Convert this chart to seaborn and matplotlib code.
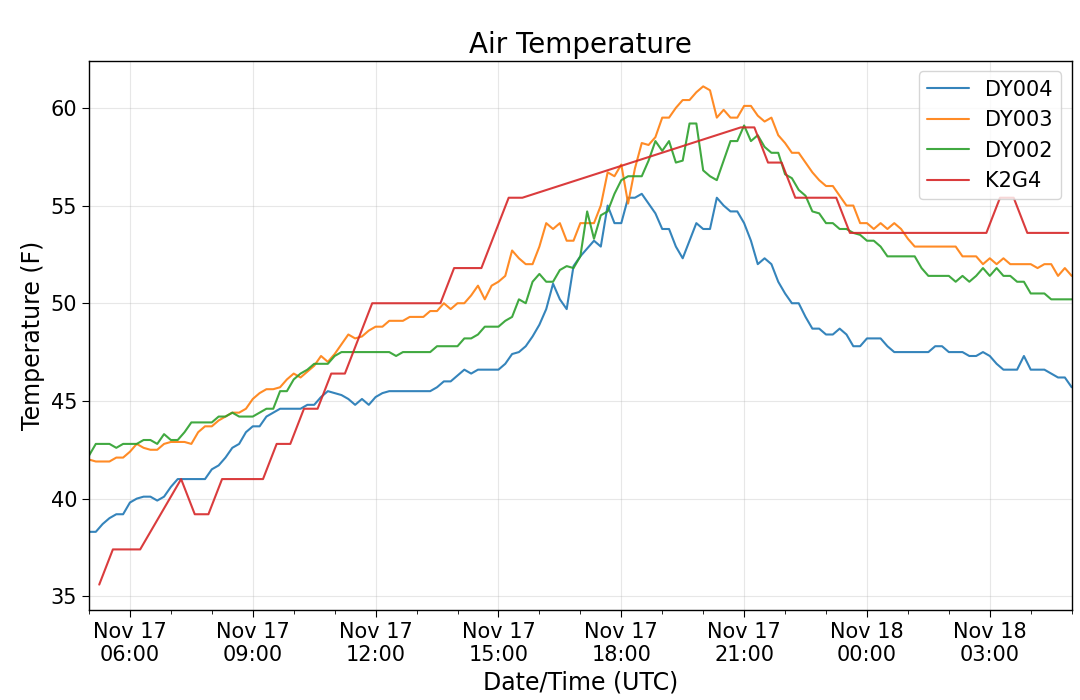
import numpy as np
import pandas as pd
import matplotlib
matplotlib.use("Agg")
import matplotlib.pyplot as plt
import matplotlib.dates as mdates
import seaborn as sns

# 10 minute station data, 05:00 Nov 17 to 05:00 Nov 18 (UTC)
dy_times = pd.date_range("2018-11-17 05:00", periods=145, freq="10min")

dy004 = [38.3, 38.3, 38.7, 39.0, 39.2, 39.2, 39.8, 40.0, 40.1, 40.1,
         39.9, 40.1, 40.6, 41.0, 41.0, 41.0, 41.0, 41.0, 41.5, 41.7,
         42.1, 42.6, 42.8, 43.4, 43.7, 43.7, 44.2, 44.4, 44.6, 44.6,
         44.6, 44.6, 44.8, 44.8, 45.2, 45.5, 45.4, 45.3, 45.1, 44.8,
         45.1, 44.8, 45.2, 45.4, 45.5, 45.5, 45.5, 45.5, 45.5, 45.5,
         45.5, 45.7, 46.0, 46.0, 46.3, 46.6, 46.4, 46.6, 46.6, 46.6,
         46.6, 46.9, 47.4, 47.5, 47.8, 48.3, 48.9, 49.7, 51.0, 50.2,
         49.7, 51.9, 52.4, 52.8, 53.2, 52.9, 55.0, 54.1, 54.1, 55.4,
         55.4, 55.6, 55.1, 54.6, 53.8, 53.8, 52.9, 52.3, 53.2, 54.1,
         53.8, 53.8, 55.4, 55.0, 54.7, 54.7, 54.1, 53.2, 52.0, 52.3,
         52.0, 51.1, 50.5, 50.0, 50.0, 49.3, 48.7, 48.7, 48.4, 48.4,
         48.7, 48.4, 47.8, 47.8, 48.2, 48.2, 48.2, 47.8, 47.5, 47.5,
         47.5, 47.5, 47.5, 47.5, 47.8, 47.8, 47.5, 47.5, 47.5, 47.3,
         47.3, 47.5, 47.3, 46.9, 46.6, 46.6, 46.6, 47.3, 46.6, 46.6,
         46.6, 46.4, 46.2, 46.2, 45.7]

dy003 = [42.0, 41.9, 41.9, 41.9, 42.1, 42.1, 42.4, 42.8, 42.6, 42.5,
         42.5, 42.8, 42.9, 42.9, 42.9, 42.8, 43.4, 43.7, 43.7, 44.0,
         44.2, 44.4, 44.4, 44.6, 45.1, 45.4, 45.6, 45.6, 45.7, 46.1,
         46.4, 46.2, 46.5, 46.8, 47.3, 47.0, 47.4, 47.9, 48.4, 48.2,
         48.3, 48.6, 48.8, 48.8, 49.1, 49.1, 49.1, 49.3, 49.3, 49.3,
         49.6, 49.6, 50.0, 49.7, 50.0, 50.0, 50.4, 50.9, 50.2, 50.9,
         51.1, 51.4, 52.7, 52.3, 52.0, 52.0, 52.9, 54.1, 53.8, 54.1,
         53.2, 53.2, 54.1, 54.1, 54.1, 55.0, 56.7, 56.5, 57.1, 55.1,
         56.9, 58.2, 58.1, 58.5, 59.5, 59.5, 60.0, 60.4, 60.4, 60.8,
         61.1, 60.9, 59.5, 59.9, 59.5, 59.5, 60.1, 60.1, 59.6, 59.3,
         59.5, 58.6, 58.2, 57.7, 57.7, 57.2, 56.7, 56.3, 56.0, 56.0,
         55.5, 55.0, 55.0, 54.1, 54.1, 53.8, 54.1, 53.8, 54.1, 53.8,
         53.3, 52.9, 52.9, 52.9, 52.9, 52.9, 52.9, 52.9, 52.4, 52.4,
         52.4, 52.0, 52.3, 52.0, 52.3, 52.0, 52.0, 52.0, 52.0, 51.8,
         52.0, 52.0, 51.4, 51.8, 51.4]

dy002 = [42.2, 42.8, 42.8, 42.8, 42.6, 42.8, 42.8, 42.8, 43.0, 43.0,
         42.8, 43.3, 43.0, 43.0, 43.4, 43.9, 43.9, 43.9, 43.9, 44.2,
         44.2, 44.4, 44.2, 44.2, 44.2, 44.4, 44.6, 44.6, 45.5, 45.5,
         46.1, 46.4, 46.6, 46.9, 46.9, 46.9, 47.3, 47.5, 47.5, 47.5,
         47.5, 47.5, 47.5, 47.5, 47.5, 47.3, 47.5, 47.5, 47.5, 47.5,
         47.5, 47.8, 47.8, 47.8, 47.8, 48.2, 48.2, 48.4, 48.8, 48.8,
         48.8, 49.1, 49.3, 50.2, 50.0, 51.1, 51.5, 51.1, 51.1, 51.7,
         51.9, 51.8, 52.4, 54.7, 53.3, 54.5, 54.7, 55.6, 56.3, 56.5,
         56.5, 56.5, 57.3, 58.3, 57.8, 58.3, 57.2, 57.3, 59.2, 59.2,
         56.8, 56.5, 56.3, 57.3, 58.3, 58.3, 59.1, 58.3, 58.6, 58.0,
         57.7, 57.7, 56.6, 56.4, 55.8, 55.5, 54.7, 54.6, 54.1, 54.1,
         53.8, 53.8, 53.6, 53.5, 53.2, 53.2, 52.9, 52.4, 52.4, 52.4,
         52.4, 52.4, 51.8, 51.4, 51.4, 51.4, 51.4, 51.1, 51.4, 51.1,
         51.4, 51.8, 51.4, 51.8, 51.4, 51.4, 51.1, 51.1, 50.5, 50.5,
         50.5, 50.2, 50.2, 50.2, 50.2]

# K2G4 airport obs (20 min, with a gap in the afternoon)
k2g4_times = ["2018-11-17 05:15", "2018-11-17 05:35", "2018-11-17 05:55",
              "2018-11-17 06:15", "2018-11-17 07:15", "2018-11-17 07:35",
              "2018-11-17 07:55", "2018-11-17 08:15", "2018-11-17 08:35",
              "2018-11-17 08:55", "2018-11-17 09:15", "2018-11-17 09:35",
              "2018-11-17 09:55", "2018-11-17 10:15", "2018-11-17 10:35",
              "2018-11-17 10:55", "2018-11-17 11:15", "2018-11-17 11:35",
              "2018-11-17 11:55", "2018-11-17 12:15", "2018-11-17 12:35",
              "2018-11-17 12:55", "2018-11-17 13:15", "2018-11-17 13:35",
              "2018-11-17 13:55", "2018-11-17 14:15", "2018-11-17 14:35",
              "2018-11-17 14:55", "2018-11-17 15:15", "2018-11-17 15:35",
              "2018-11-17 20:55", "2018-11-17 21:15", "2018-11-17 21:35",
              "2018-11-17 21:55", "2018-11-17 22:15", "2018-11-17 22:35",
              "2018-11-17 22:55", "2018-11-17 23:15", "2018-11-17 23:35",
              "2018-11-17 23:55", "2018-11-18 00:15", "2018-11-18 00:35",
              "2018-11-18 00:55", "2018-11-18 01:15", "2018-11-18 01:35",
              "2018-11-18 01:55", "2018-11-18 02:15", "2018-11-18 02:35",
              "2018-11-18 02:55", "2018-11-18 03:15", "2018-11-18 03:35",
              "2018-11-18 03:55", "2018-11-18 04:15", "2018-11-18 04:35",
              "2018-11-18 04:55"]
k2g4 = [35.6, 37.4, 37.4, 37.4, 41.0, 39.2, 39.2, 41.0, 41.0, 41.0,
        41.0, 42.8, 42.8, 44.6, 44.6, 46.4, 46.4, 48.2, 50.0, 50.0,
        50.0, 50.0, 50.0, 50.0, 51.8, 51.8, 51.8, 53.6, 55.4, 55.4,
        59.0, 59.0, 57.2, 57.2, 55.4, 55.4, 55.4, 55.4, 53.6, 53.6,
        53.6, 53.6, 53.6, 53.6, 53.6, 53.6, 53.6, 53.6, 53.6, 55.4,
        55.4, 53.6, 53.6, 53.6, 53.6]

stations = ["DY004", "DY003", "DY002", "K2G4"]
colors = ["#1f77b4", "#ff7f0e", "#2ca02c", "#d62728"]

frames = []
for name, vals in [("DY004", dy004), ("DY003", dy003), ("DY002", dy002)]:
    frames.append(pd.DataFrame({"time": dy_times, "temp": vals, "station": name}))
frames.append(pd.DataFrame({"time": pd.to_datetime(k2g4_times), "temp": k2g4, "station": "K2G4"}))
df = pd.concat(frames, ignore_index=True)

sns.set_style("ticks")
plt.rcParams['font.family'] = ['DejaVu Sans']
plt.rcParams['text.color'] = 'black'
plt.rcParams['axes.labelcolor'] = 'black'
plt.rcParams['xtick.color'] = 'black'
plt.rcParams['ytick.color'] = 'black'

fig, ax = plt.subplots(figsize=(10.8, 7), dpi=100)
fig.subplots_adjust(left=0.0824, right=0.9923, top=0.9129, bottom=0.1286)

sns.lineplot(data=df, x="time", y="temp", hue="station", hue_order=stations,
             palette=colors, estimator=None, linewidth=1.5, alpha=0.9, ax=ax)

ax.set_xlim(dy_times[0], dy_times[-1])
ax.set_ylim(34.3, 62.4)
ax.xaxis.set_major_locator(mdates.HourLocator(byhour=range(0, 24, 3)))
ax.xaxis.set_minor_locator(mdates.HourLocator())
ax.xaxis.set_major_formatter(mdates.DateFormatter("%b %d\n%H:%M"))
ax.grid(True, which="major", color="#b0b0b0", alpha=0.3, linewidth=0.8)

for s in ax.spines.values():
    s.set_color("black")
    s.set_linewidth(1.0)
ax.tick_params(axis="both", which="major", labelsize=15, length=5)
ax.tick_params(axis="x", which="minor", length=3)

ax.set_xlabel("Date/Time (UTC)", fontsize=17)
ax.set_ylabel("Temperature (F)", fontsize=17)
ax.set_title("Air Temperature", fontsize=20)

old = ax.get_legend()
handles = old.legend_handles
labels = [t.get_text() for t in old.get_texts()]
ax.legend(handles, labels, loc="upper right", fontsize=15, framealpha=0.8)

fig.savefig("out.png", dpi=100)
